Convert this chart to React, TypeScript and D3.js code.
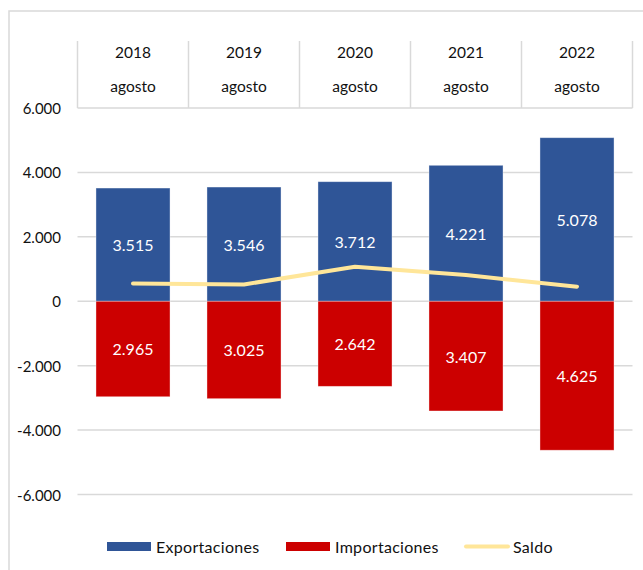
import React from "react";
import * as d3 from "d3";

const years = ["2018", "2019", "2020", "2021", "2022"];
const monthLabel = "agosto";
const exportaciones = [3515, 3546, 3712, 4221, 5078];
const importaciones = [2965, 3025, 2642, 3407, 4625];
const yTicks = [6000, 4000, 2000, 0, -2000, -4000, -6000];
const legendLabels = ["Exportaciones", "Importaciones", "Saldo"];

const W = 643;
const H = 570;
const FONT = "Lato, 'Open Sans', sans-serif";
const BLUE = "#2F5597";
const RED = "#CC0000";
const YELLOW = "#FFE699";
const GRID = "#D9D9D9";

const fmt = (v: number) => {
  const s = d3.format(",")(Math.abs(v)).replace(/,/g, ".");
  return (v < 0 ? "-" : "") + s;
};

export default function App() {
  const x = d3.scaleBand<string>().domain(years).range([77.5, 632.5]).paddingInner(0.333).paddingOuter(0.1665);
  const band = d3.scaleBand<string>().domain(years).range([77.5, 632.5]);
  const y = d3.scaleLinear().domain([-6000, 6000]).range([494.5, 108]);
  const saldo = years.map((yr, i) => ({ yr, v: exportaciones[i] - importaciones[i] }));
  const line = d3
    .line<{ yr: string; v: number }>()
    .x((d) => (band(d.yr) as number) + band.bandwidth() / 2)
    .y((d) => y(d.v));

  return (
    <svg width={W} height={H} style={{ position: "absolute", left: 0, top: 0, fontFamily: FONT }}>
      <rect x={0} y={0} width={W} height={H} fill="#fff" />
      <rect x={9} y={11} width={W} height={H} fill="none" stroke={GRID} strokeWidth={1.5} />
      {/* header */}
      {years.map((yr) => (
        <line key={"v" + yr} x1={band(yr)} x2={band(yr)} y1={41} y2={108} stroke={GRID} strokeWidth={1.5} />
      ))}
      <line x1={632.5} x2={632.5} y1={41} y2={108} stroke={GRID} strokeWidth={1.5} />
      {years.map((yr) => {
        const cx = (band(yr) as number) + band.bandwidth() / 2;
        return (
          <g key={"h" + yr}>
            <text x={cx} y={52} textAnchor="middle" dominantBaseline="central" fontSize={15.5} fill="#111">
              {yr}
            </text>
            <text x={cx} y={86} textAnchor="middle" dominantBaseline="central" fontSize={15.5} fill="#111">
              {monthLabel}
            </text>
          </g>
        );
      })}
      {/* grid + ticks */}
      {yTicks.map((t) => (
        <g key={"t" + t}>
          <line x1={77.5} x2={632.5} y1={y(t)} y2={y(t)} stroke={GRID} strokeWidth={1.5} />
          <text x={61} y={y(t)} textAnchor="end" dominantBaseline="central" fontSize={15} fill="#111">
            {fmt(t)}
          </text>
        </g>
      ))}
      {/* bars */}
      {years.map((yr, i) => (
        <g key={"b" + yr}>
          <rect
            x={x(yr)}
            y={y(exportaciones[i])}
            width={x.bandwidth()}
            height={y(0) - y(exportaciones[i])}
            fill={BLUE}
            stroke="#fff"
            strokeOpacity={0.45}
            strokeWidth={0.8}
          />
          <rect
            x={x(yr)}
            y={y(0)}
            width={x.bandwidth()}
            height={y(-importaciones[i]) - y(0)}
            fill={RED}
            stroke="#fff"
            strokeOpacity={0.45}
            strokeWidth={0.8}
          />
          <text
            x={(x(yr) as number) + x.bandwidth() / 2}
            y={(y(exportaciones[i]) + y(0)) / 2}
            textAnchor="middle"
            dominantBaseline="central"
            fontSize={16}
            fill="#fff"
          >
            {fmt(exportaciones[i])}
          </text>
          <text
            x={(x(yr) as number) + x.bandwidth() / 2}
            y={(y(-importaciones[i]) + y(0)) / 2}
            textAnchor="middle"
            dominantBaseline="central"
            fontSize={16}
            fill="#fff"
          >
            {fmt(importaciones[i])}
          </text>
        </g>
      ))}
      <path d={line(saldo) || ""} fill="none" stroke={YELLOW} strokeWidth={4} strokeLinecap="round" strokeLinejoin="round" />
      {/* legend */}
      <rect x={107} y={542} width={44} height={9} fill={BLUE} />
      <text x={156} y={546.5} dominantBaseline="central" fontSize={16} letterSpacing={0.3} fill="#111">
        {legendLabels[0]}
      </text>
      <rect x={286} y={542} width={44} height={9} fill={RED} />
      <text x={335} y={546.5} dominantBaseline="central" fontSize={16} letterSpacing={0.3} fill="#111">
        {legendLabels[1]}
      </text>
      <line x1={466} x2={508} y1={546.5} y2={546.5} stroke={YELLOW} strokeWidth={4} strokeLinecap="round" />
      <text x={513} y={546.5} dominantBaseline="central" fontSize={16} letterSpacing={0.3} fill="#111">
        {legendLabels[2]}
      </text>
    </svg>
  );
}
